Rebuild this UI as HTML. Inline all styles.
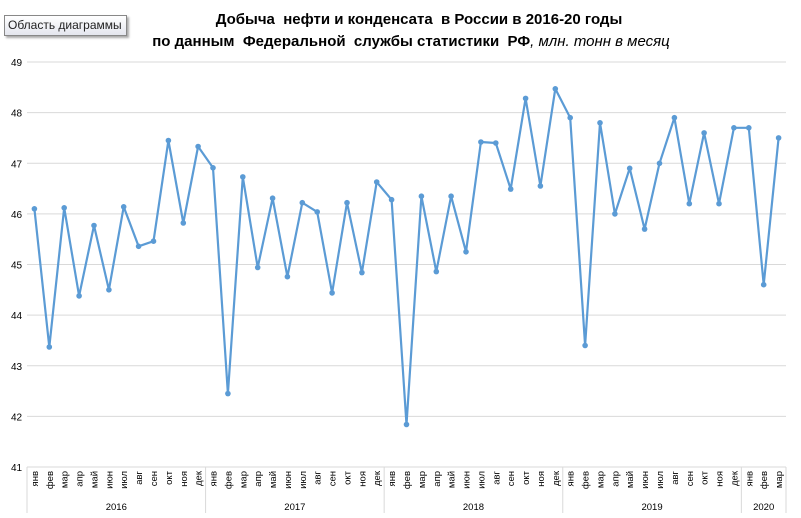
<!DOCTYPE html>
<html><head><meta charset="utf-8"><style>
body{margin:0;background:#fff;width:801px;height:518px;overflow:hidden;font-family:"Liberation Sans","DejaVu Sans",sans-serif}
.tip{position:absolute;left:4px;top:15px;width:118px;height:19px;border:1px solid #888;background:linear-gradient(#fff,#e4e6ee);box-shadow:2px 2px 2px #aaa;font-size:12px;line-height:19px;padding-left:3px;color:#222;box-sizing:content-box}
</style></head><body>
<svg id="s" width="801" height="518" style="position:absolute;left:0;top:0" font-family="Liberation Sans, DejaVu Sans, sans-serif">
<text x="419" y="24" text-anchor="middle" font-size="15" font-weight="bold" style="white-space:pre">Добыча  нефти и конденсата  в России в 2016-20 годы</text>
<text x="411" y="46" text-anchor="middle" font-size="15" style="white-space:pre"><tspan font-weight="bold">по данным  Федеральной  службы статистики  РФ</tspan><tspan font-style="italic">, млн. тонн в месяц</tspan></text>
</svg>
<div class="tip">Область диаграммы</div>
<script>
var s=document.getElementById('s'),h='';
var L=27,R=786,T=62,B=467,pu=(B-T)/8;
for(var v=41;v<=49;v++){var y=T+(49-v)*pu;h+='<line x1="'+L+'" x2="'+R+'" y1="'+y+'" y2="'+y+'" stroke="#d9d9d9"/>';h+='<text x="11" y="'+(y+4)+'" font-size="10">'+v+'</text>';}
var d=[46.1,43.37,46.12,44.38,45.77,44.5,46.14,45.36,45.46,47.45,45.82,47.33,
46.91,42.45,46.73,44.94,46.31,44.76,46.22,46.04,44.44,46.22,44.84,46.63,
46.28,41.84,46.35,44.86,46.35,45.25,47.42,47.4,46.49,48.28,46.55,48.47,
47.9,43.4,47.8,46.0,46.9,45.7,47.0,47.9,46.2,47.6,46.2,47.7,47.7,44.6,47.5];
var m=['янв','фев','мар','апр','май','июн','июл','авг','сен','окт','ноя','дек'];
var w=(R-L)/51,pts=[];
for(var i=0;i<51;i++){var x=L+w*(i+0.5),y=T+(49-d[i])*pu;pts.push(x.toFixed(1)+','+y.toFixed(1));
h+='<text transform="translate('+(x+3.5)+',471) rotate(-90)" text-anchor="end" font-size="9.5">'+m[i%12]+'</text>';}
var yrs=['2016','2017','2018','2019','2020'];
for(var k=0;k<=5;k++){var x=k<5?L+w*12*k:R;h+='<line x1="'+x+'" x2="'+x+'" y1="'+B+'" y2="513" stroke="#d9d9d9"/>';}
for(var k=0;k<5;k++){var x0=L+w*12*k,x1=k<4?L+w*12*(k+1):R;h+='<text x="'+((x0+x1)/2)+'" y="510" text-anchor="middle" font-size="9.5">'+yrs[k]+'</text>';}
h+='<line x1="'+L+'" x2="'+R+'" y1="'+B+'" y2="'+B+'" stroke="#d9d9d9"/>';
h+='<polyline points="'+pts.join(' ')+'" fill="none" stroke="#5b9bd5" stroke-width="2.2" stroke-linejoin="round"/>';
pts.forEach(function(p){var a=p.split(',');h+='<circle cx="'+a[0]+'" cy="'+a[1]+'" r="2.8" fill="#5b9bd5"/>';});
s.insertAdjacentHTML('beforeend',h);
</script>
</body></html>
